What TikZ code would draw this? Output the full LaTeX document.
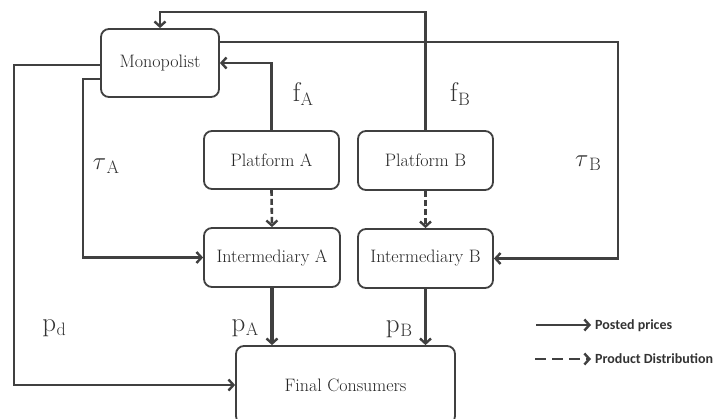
\documentclass[tikz,border=0pt]{standalone}
\usepackage{fontspec}
\newfontfamily\legendfont{Carlito}
\usetikzlibrary{arrows.meta}
\definecolor{ink}{HTML}{404040}
\tikzset{
  box/.style={draw=ink, line width=1.8pt, rounded corners=8pt, fill=white,
    font=\fontsize{18}{20}\selectfont, text=black!85, inner sep=0pt},
  flow/.style={draw=ink, line width=2.6pt, -{Straight Barb[length=5pt,width=11pt,line width=2.4pt]}},
  dist/.style={flow, dash pattern=on 6pt off 3pt},
  legdist/.style={flow, dash pattern=on 11pt off 6pt},
  heavy/.style={flow, line width=3.6pt},
  lbl/.style={text=black!80, inner sep=0pt},
  legend/.style={font=\legendfont\bfseries\fontsize{14}{16}\selectfont, text=black!80, anchor=west, inner sep=0pt}
}
\newcommand{\pricelabel}[2]{{\fontsize{27}{27}\selectfont #1}\kern0.5pt\raisebox{-4pt}{\fontsize{18}{18}\selectfont #2}}
\begin{document}
\begin{tikzpicture}[x=1pt,y=-1pt]
\useasboundingbox[fill=white] (0,0) rectangle (718,418);

% boxes
\node[box, minimum width=118pt, minimum height=68pt] (mono) at (160,63) {Monopolist};
\node[box, minimum width=135pt, minimum height=58pt] (pA) at (271.5,160) {Platform A};
\node[box, minimum width=135pt, minimum height=59pt] (pB) at (425.5,160.5) {Platform B};
\node[box, minimum width=136pt, minimum height=59pt] (iA) at (272,257.5) {Intermediary A};
\node[box, minimum width=135pt, minimum height=59pt] (iB) at (425.5,258.5) {Intermediary B};
\node[box, minimum width=219pt, minimum height=78pt] (fc) at (345.5,385) {Final Consumers};

% fees from the platforms to the monopolist
\draw[flow] (pA.north) |- (mono.east);
\draw[flow] (pB.north) -- (pB.north |- 0,12) -| (mono.north);

% wholesale prices to the intermediaries
\draw[flow] (mono.east |- 0,42) -- (618,42) |- (iB.east);
\draw[flow] (mono.west |- 0,79) -- (83,79) |- (iA.west);

% direct sales price
\draw[flow] (mono.west |- 0,65) -- (14,65) |- (fc.west);

% product distribution
\draw[dist] (pA.south) -- (iA.north);
\draw[dist] (pB.south) -- (iB.north);

% retail prices
\draw[heavy] (iA.south) -- (iA.south |- fc.north);
\draw[heavy] (iB.south) -- (iB.south |- fc.north);

% price labels
\node[lbl] (fA) at (303,94) {\pricelabel{f}{A}};
\node[lbl] (fB) at (460,94) {\pricelabel{f}{B}};
\node[lbl] (tA) at (106,166) {\pricelabel{$\tau$}{A}};
\node[lbl] (tB) at (588,163) {\pricelabel{$\tau$}{B}};
\node[lbl] (pd) at (54,328) {\pricelabel{p}{d}};
\node[lbl] (pAl) at (245,328) {\pricelabel{p}{A}};
\node[lbl] (pBl) at (399,329) {\pricelabel{p}{B}};

% legend
\coordinate (l1a) at (536,325);
\coordinate (l1b) at (591,325);
\coordinate (l2a) at (535,359);
\coordinate (l2b) at (591,359);
\draw[flow] (l1a) -- (l1b);
\draw[legdist] (l2a) -- (l2b);
\node[legend] (lg1) at (595,326) {Posted prices};
\node[legend] (lg2) at (595,359) {Product Distribution};
\end{tikzpicture}
\end{document}
